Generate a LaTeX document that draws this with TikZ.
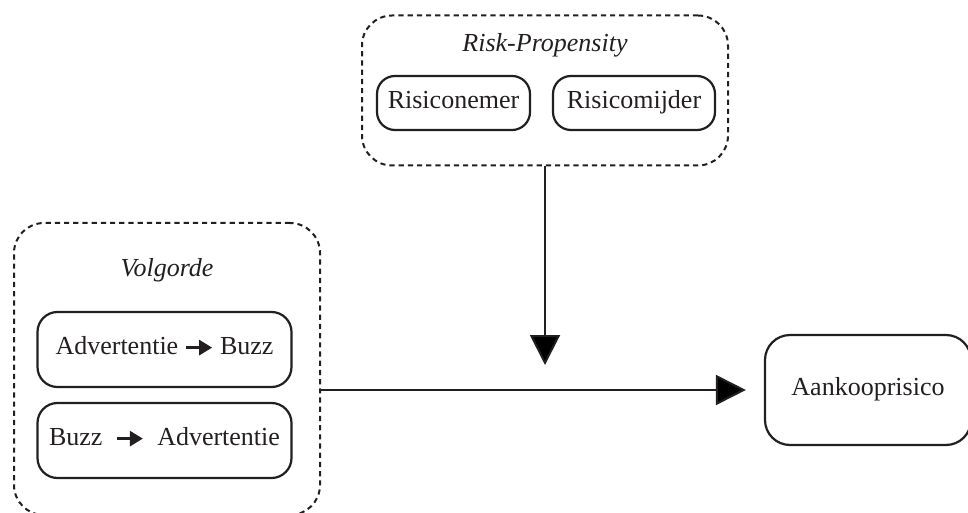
\documentclass[tikz,border=0pt]{standalone}
\usepackage{fontspec}
\setmainfont{Liberation Serif}
\usepackage{tikz}
\usetikzlibrary{arrows.meta}

\definecolor{ink}{HTML}{231F20}

% small arrow inside the order labels
\newcommand{\ordpijl}{\tikz[baseline=-0.6ex]\draw[ink, line width=1.4pt, -{Triangle[length=6.5pt,width=7.5pt]}] (0pt,0pt) -- (13pt,0pt);}

\begin{document}
\begin{tikzpicture}[x=0.5pt, y=-0.5pt,
        every node/.style={font=\fontsize{13}{15}\selectfont, text=ink},
        groep/.style={draw=ink, dashed, dash pattern=on 2.6pt off 2pt, line width=1pt, rounded corners=15pt},
        vak/.style={draw=ink, line width=1.1pt, rounded corners=10pt, text height=1.6ex, text depth=0.45ex},
        pijl/.style={draw=ink, line width=1pt, -{Triangle[length=15pt,width=15pt]}}]

        \useasboundingbox (0,0) rectangle (968,513);

        % moderator
        \node[groep, minimum width=183pt, minimum height=75pt] (risk) at (545,90.5) {};
        \node (risktitel) at (545,45) {\textit{Risk-Propensity}};
        \node[vak, rounded corners=9pt, minimum width=76.5pt, minimum height=27pt] (nemer) at (453.5,103) {Risiconemer};
        \node[vak, rounded corners=9pt, minimum width=81pt, minimum height=27pt] (mijder) at (634,103) {Risicomijder};

        % independent variable
        \node[groep, minimum width=153pt, minimum height=146pt] (volg) at (167,369) {};
        \node (volgtitel) at (167,270) {\textit{Volgorde}};
        \node[vak, minimum width=127pt, minimum height=37.5pt] (advbuzz) at (164.5,349.5) {Advertentie \ordpijl{} Buzz};
        \node[vak, minimum width=127pt, minimum height=37.5pt] (buzzadv) at (164.5,440.5) {Buzz\enspace\ordpijl\enspace Advertentie};

        % dependent variable
        \node[vak, rounded corners=12.5pt, minimum width=103pt, minimum height=55pt] (aank) at (868,390) {Aankooprisico};

        \coordinate (kruis) at (545,365);

        \draw[pijl, shorten >=9pt] (volg.east |- aank.west) -- (aank.west);
        \draw[pijl] (risk.south) -- (kruis);
\end{tikzpicture}
\end{document}
